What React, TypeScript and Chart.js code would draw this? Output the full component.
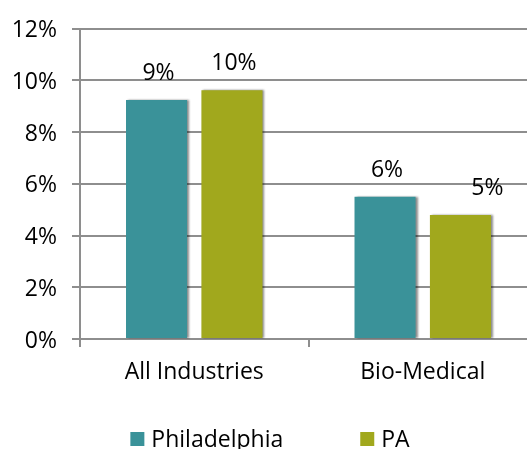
import React, { useEffect, useRef } from "react";
import { Chart, registerables } from "chart.js";

Chart.register(...registerables);

const categories = ["All Industries", "Bio-Medical"];
const philadelphia = [9.25, 5.5];
const pa = [9.62, 4.8];
const philadelphiaLabels = ["9%", "6%"];
const paLabels = ["10%", "5%"];
const yTicks = [0, 2, 4, 6, 8, 10, 12];

const FONT = "'Open Sans', sans-serif";
const FS = 23;
const TEAL = "#3A9299";
const OLIVE = "#A1A81D";
const GRID = "#8E8E8E";

const labelPlugin = {
  id: "barLabels",
  beforeDatasetsDraw(chart: any) {
    const ctx = chart.ctx;
    ctx.save();
    ctx.shadowColor = "rgba(0,0,0,0.45)";
    ctx.shadowOffsetX = 2;
    ctx.shadowOffsetY = 0;
    ctx.shadowBlur = 2;
  },
  afterDatasetsDraw(chart: any) {
    const ctx = chart.ctx;
    ctx.restore();
    const texts = [philadelphiaLabels, paLabels];
    ctx.save();
    ctx.font = `${FS}px ${FONT}`;
    ctx.fillStyle = "#000";
    ctx.textAlign = "center";
    ctx.textBaseline = "alphabetic";
    chart.data.datasets.forEach((ds: any, di: number) => {
      const meta = chart.getDatasetMeta(di);
      meta.data.forEach((bar: any, i: number) => {
        const dx = di === 1 && i === 1 ? 27 : 2;
        ctx.fillText(texts[di][i], bar.x + dx, bar.y - 20);
      });
    });
    ctx.restore();
  },
  afterDraw(chart: any) {
    const ctx = chart.ctx;
    ctx.save();
    ctx.font = `${FS}px ${FONT}`;
    ctx.textBaseline = "middle";
    ctx.textAlign = "left";
    const box = 14;
    const gapText = 7;
    const spacing = 77;
    const items = chart.data.datasets.map((d: any) => ({
      text: d.label,
      color: d.backgroundColor,
      w: box + gapText + ctx.measureText(d.label).width,
    }));
    const total = items.reduce((a: number, it: any) => a + it.w, 0) + spacing * (items.length - 1);
    let x = chart.width / 2 - total / 2;
    const cy = 439;
    items.forEach((it: any) => {
      ctx.fillStyle = it.color;
      ctx.fillRect(x, cy - box / 2, box, box);
      ctx.fillStyle = "#000";
      ctx.fillText(it.text, x + box + gapText, cy + 1);
      x += it.w + spacing;
    });
    ctx.restore();
  },
};

export default function App() {
  const ref = useRef<HTMLCanvasElement>(null);
  useEffect(() => {
    const chart = new Chart(ref.current!, {
      type: "bar",
      data: {
        labels: categories,
        datasets: [
          { label: "Philadelphia", data: philadelphia, backgroundColor: TEAL, categoryPercentage: 0.66, barPercentage: 0.81 },
          { label: "PA", data: pa, backgroundColor: OLIVE, categoryPercentage: 0.66, barPercentage: 0.81 },
        ],
      },
      options: {
        responsive: false,
        animation: false,
        layout: { padding: { top: 22, right: 3, left: 0, bottom: 50 } },
        plugins: {
          tooltip: { enabled: false },
          legend: { display: false },
        },
        scales: {
          x: {
            grid: { drawOnChartArea: false, drawTicks: true, tickLength: 8, color: GRID, lineWidth: 2, offset: true },
            border: { color: GRID, width: 2 },
            ticks: { color: "#000", font: { family: FONT, size: FS }, padding: 12 },
            afterFit: (s: any) => { s.height = 60; },
          },
          y: {
            min: 0,
            max: 12,
            afterBuildTicks: (s: any) => { s.ticks = yTicks.map((v) => ({ value: v })); },
            grid: { color: GRID, lineWidth: 2, tickLength: 8 },
            border: { color: GRID, width: 2 },
            ticks: { color: "#000", font: { family: FONT, size: FS }, padding: 15, labelOffset: 2, callback: (v: any) => v + "%" },
            afterFit: (s: any) => { s.width = 80; },
          },
        },
      },
      plugins: [labelPlugin],
    });
    return () => chart.destroy();
  }, []);
  return (
    <div style={{ position: "absolute", left: 0, top: 0, width: 527, height: 449, overflow: "hidden", background: "#fff" }}>
      <canvas ref={ref} width={540} height={449} style={{ display: "block" }} />
    </div>
  );
}
